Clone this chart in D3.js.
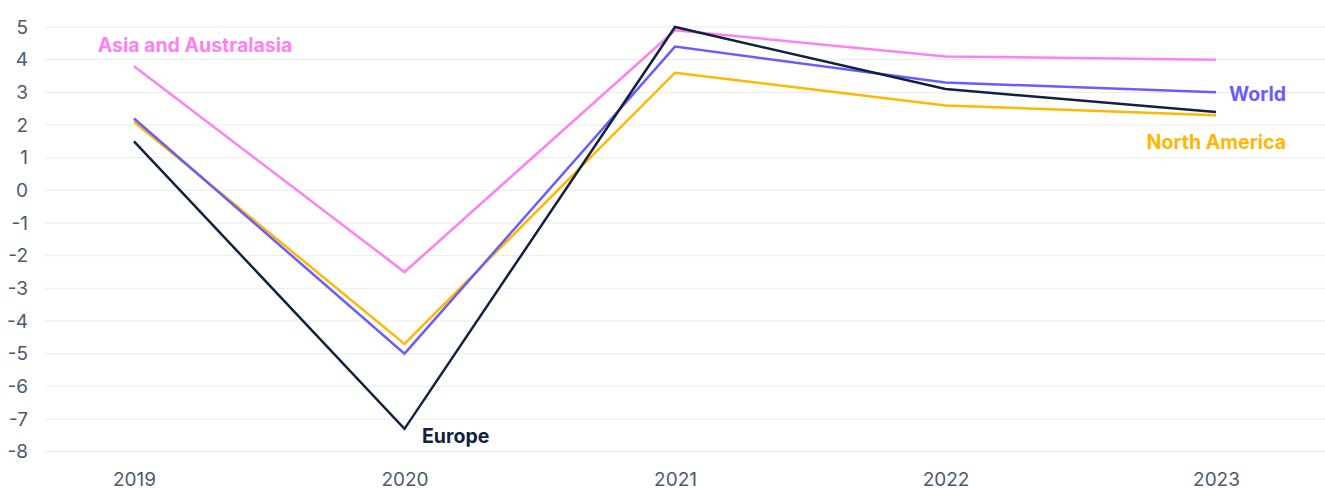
<!DOCTYPE html>
<html>
<head>
<meta charset="utf-8">
<script src="https://cdn.jsdelivr.net/npm/d3@7"></script>
<style>
  body { margin: 0; background: #fff; }
  svg { display: block; font-family: Inter, "Noto Sans", sans-serif; }
</style>
</head>
<body>
<div id="chart"></div>
<script>
// Data
const years = ['2019', '2020', '2021', '2022', '2023'];
const yTicks = [5, 4, 3, 2, 1, 0, -1, -2, -3, -4, -5, -6, -7, -8];

const asia = [3.8, -2.5, 4.9, 4.1, 4.0];
const world = [2.2, -5.0, 4.4, 3.3, 3.0];
const northAmerica = [2.1, -4.7, 3.6, 2.6, 2.3];
const europe = [1.5, -7.3, 5.0, 3.1, 2.4];

const seriesNames = ['Asia and Australasia', 'North America', 'World', 'Europe'];
const seriesColors = ['#ff80f2', '#ffb700', '#6b5cff', '#0f2340'];

const series = [
    { name: seriesNames[0], values: asia, color: seriesColors[0], lx: 195, ly: 45, anchor: 'middle' },
    { name: seriesNames[1], values: northAmerica, color: seriesColors[1], lx: 1286, ly: 142, anchor: 'end' },
    { name: seriesNames[2], values: world, color: seriesColors[2], lx: 1229, ly: 94, anchor: 'start' },
    { name: seriesNames[3], values: europe, color: seriesColors[3], lx: 422, ly: 436, anchor: 'start' }
];

const width = 1325;
const height = 489;

const svg = d3.select('#chart')
    .append('svg')
    .attr('width', width)
    .attr('height', height);

// Scales
const x = d3.scalePoint()
    .domain(years)
    .range([134, 1216]);

const y = d3.scaleLinear()
    .domain([-8, 5])
    .range([451.7, 27]);

// Gridlines
svg.append('g')
    .selectAll('line')
    .data(yTicks)
    .enter()
    .append('line')
    .attr('x1', 45)
    .attr('x2', width)
    .attr('y1', d => y(d))
    .attr('y2', d => y(d))
    .attr('stroke', '#ebebeb')
    .attr('stroke-width', 1);

// Y axis
const yAxis = svg.append('g')
    .attr('transform', 'translate(28,0)')
    .call(d3.axisLeft(y).tickValues(yTicks).tickSize(0).tickPadding(0).tickFormat(d => String(d)));
yAxis.select('.domain').remove();
yAxis.selectAll('text')
    .attr('fill', '#4b5a6e')
    .style('font-size', '19px')
    .style('font-family', 'Inter, "Noto Sans", sans-serif');

// X axis
const xAxis = svg.append('g')
    .attr('transform', 'translate(0,472)')
    .call(d3.axisBottom(x).tickSize(0).tickPadding(0));
xAxis.select('.domain').remove();
xAxis.selectAll('text')
    .attr('fill', '#4b5a6e')
    .style('font-size', '19px')
    .style('font-family', 'Inter, "Noto Sans", sans-serif');

// Lines
const line = d3.line()
    .x((d, i) => x(years[i]))
    .y(d => y(d));

svg.selectAll('.series')
    .data(series)
    .enter()
    .append('path')
    .attr('class', 'series')
    .attr('d', d => line(d.values))
    .attr('fill', 'none')
    .attr('stroke', d => d.color)
    .attr('stroke-width', 2.5)
    .attr('stroke-linejoin', 'miter');

// Labels
svg.selectAll('.label')
    .data(series)
    .enter()
    .append('text')
    .attr('class', 'label')
    .attr('x', d => d.lx)
    .attr('y', d => d.ly)
    .attr('dy', '0.35em')
    .attr('text-anchor', d => d.anchor)
    .attr('fill', d => d.color)
    .style('font-size', '19.5px')
    .style('font-weight', 700)
    .text(d => d.name);
</script>
</body>
</html>
